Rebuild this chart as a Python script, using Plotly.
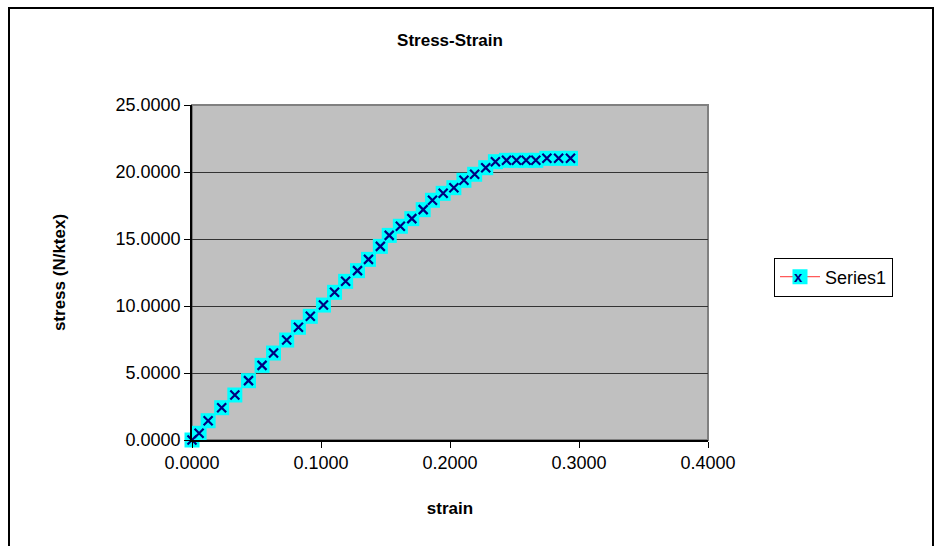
import plotly.graph_objects as go

strain = [0.0, 0.0055, 0.0125, 0.0230, 0.0332, 0.0438, 0.0543, 0.0632, 0.0734, 0.0825,
          0.0917, 0.1019, 0.1105, 0.1191, 0.1283, 0.1368, 0.1460, 0.1529, 0.1615, 0.1704,
          0.1792, 0.1864, 0.1947, 0.2030, 0.2108, 0.2191, 0.2277, 0.2352, 0.2438, 0.2515,
          0.2590, 0.2665, 0.2751, 0.2842, 0.2934]
stress = [0.0, 0.50, 1.44, 2.41, 3.36, 4.43, 5.57, 6.49, 7.46, 8.41,
          9.23, 10.07, 11.02, 11.84, 12.64, 13.48, 14.45, 15.27, 15.95, 16.52,
          17.19, 17.89, 18.41, 18.83, 19.38, 19.83, 20.32, 20.77, 20.87, 20.87,
          20.87, 20.87, 21.02, 21.02, 21.02]

x_ticks = [0.0, 0.1, 0.2, 0.3, 0.4]
y_ticks = [0, 5, 10, 15, 20, 25]

FONT = "Liberation Sans, Arial, sans-serif"

# plot area in pixels
L, R, T, B = 192, 708, 105, 440
PW, PH = R - L, B - T

fig = go.Figure()
fig.add_trace(go.Scatter(
    x=strain, y=stress, name="Series1", mode="lines+markers",
    line=dict(color="#FF5A5A", width=1.3),
    marker=dict(symbol="square", size=15, color="#00FFFF", line=dict(width=0)),
    cliponaxis=False,
))
fig.add_trace(go.Scatter(
    x=strain, y=stress, name="Series1", mode="markers", showlegend=False,
    marker=dict(symbol="x-thin", size=9, line=dict(color="#000080", width=2.2)),
    cliponaxis=False,
))

leg_left = 774
leg_mid = 277

fig.update_layout(
    width=934, height=546,
    margin=dict(l=L, r=934 - R, t=T, b=546 - B),
    paper_bgcolor="white", plot_bgcolor="#C0C0C0",
    font=dict(family=FONT, color="black", size=18),
    title=dict(text="<b>Stress-Strain</b>", x=450/934, xanchor="center",
               y=1 - 40/546, yanchor="middle",
               font=dict(family=FONT, size=17, color="black")),
    legend=dict(x=(leg_left - L)/PW, xanchor="left", y=(B - leg_mid)/PH, yanchor="middle",
                bordercolor="black", borderwidth=1, bgcolor="white",
                font=dict(family=FONT, size=18, color="black"),
                tracegroupgap=0, itemwidth=40),
    showlegend=True,
    annotations=[
        dict(text="<b>x</b>", xref="paper", yref="paper",
             x=(leg_left + 24 - L)/PW, y=(B - leg_mid + 1)/PH,
             xanchor="center", yanchor="middle", showarrow=False,
             font=dict(family=FONT, size=15, color="#000080")),
    ],
    shapes=[
        dict(type="rect", xref="paper", yref="paper", x0=0, x1=1, y0=0, y1=1,
             line=dict(color="#808080", width=2), layer="below"),
        dict(type="rect", xref="paper", yref="paper",
             x0=(9 - L)/PW, x1=(933 - L)/PW, y0=(B - 550)/PH, y1=(B - 8)/PH,
             line=dict(color="black", width=2)),
    ],
)
fig.update_xaxes(
    range=[0, 0.4], tickvals=x_ticks, tickformat=".4f",
    showgrid=False, zeroline=False,
    showline=True, linecolor="black", linewidth=1.5,
    ticks="outside", ticklen=6, tickcolor="black",
    title=dict(text="<b>strain</b>", font=dict(family=FONT, size=17), standoff=30),
)
fig.update_yaxes(
    range=[0, 25], tickvals=y_ticks, tickformat=".4f",
    showgrid=True, gridcolor="#333333", gridwidth=1, zeroline=False,
    showline=True, linecolor="black", linewidth=1.5,
    ticks="outside", ticklen=6, tickcolor="black",
    title=dict(text="<b>stress (N/ktex)</b>", font=dict(family=FONT, size=17), standoff=46),
)

fig.write_html("out.html")
